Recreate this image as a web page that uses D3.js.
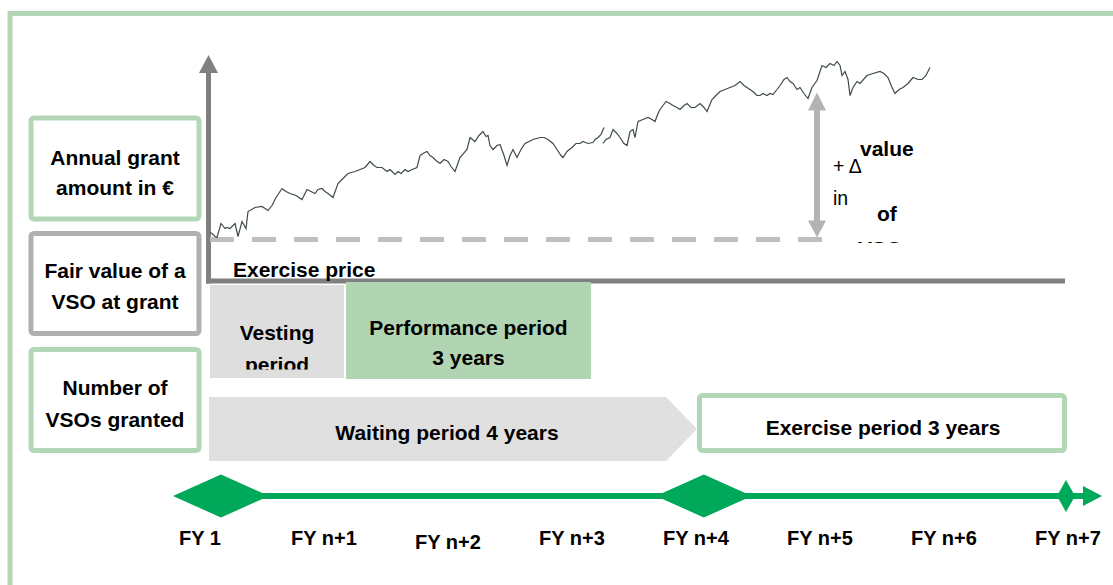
<!DOCTYPE html>
<html>
<head>
<meta charset="utf-8">
<title>VSO timeline</title>
<style>
  body { margin: 0; background: #fff; font-family: "Liberation Sans", Arial, sans-serif; }
  .lbl { font-size: 21px; font-weight: bold; fill: #000; }
  .thin { font-size: 19.5px; font-weight: normal; fill: #000; }
</style>
</head>
<body>
<script src="https://cdn.jsdelivr.net/npm/d3@7"></script>
<div id="graphic"></div>
<script>
// share price path (trading day, price index; exercise price = 100)
var stockT1 = [0, 2, 5, 7, 11, 15, 17, 20, 25, 28, 32, 36, 38, 45, 52, 58, 62, 66, 72, 76, 80, 86, 92, 97, 101, 105, 108, 112, 115, 118, 123, 128, 133, 138, 145, 150, 155, 160, 164, 167, 172, 177, 180, 185, 188, 191, 195, 198, 202, 207, 210, 213, 217, 220, 223, 226, 230, 234, 238, 241, 245, 250, 257, 260, 265, 269, 273, 276, 278, 280, 283, 287, 290, 294, 297, 300, 303, 307, 311, 315, 323, 330, 334, 338, 343, 347, 351, 353, 357, 362, 366, 370, 373, 378, 383, 385, 388, 391, 394];
var stockV1 = [103.5, 103, 101.5, 101, 108, 105.5, 106, 105.5, 108, 101.5, 109, 105.5, 114, 116, 116.5, 114.5, 117, 121, 125.5, 124, 123, 122, 120, 125, 124, 123, 125, 125.5, 124, 123, 121, 128, 130.5, 133, 134, 135, 136, 139, 137, 136, 136, 134, 135, 132.5, 134, 133, 135, 134, 135, 136, 142, 143, 144, 142, 141, 139.5, 138, 140, 139, 136.5, 134, 141, 145, 151, 149, 152, 154, 151.5, 152, 147, 145, 147, 147.5, 142, 137, 142, 145, 141, 145, 148, 150, 151, 151, 150, 148, 145, 142, 141, 144, 146, 148, 148, 149, 148, 148.5, 150, 151, 152.5, 156];
var stockT2 = [393, 396, 400, 403, 407, 410, 414, 417, 420, 423, 425, 428, 433, 438, 442, 445, 448, 450, 453, 456, 460, 463, 467, 470, 474, 477, 481, 485, 490, 494, 497, 502, 506, 510, 515, 520, 525, 530, 534, 537, 540, 543, 547, 550, 553, 557, 560, 563, 567, 570, 574, 577, 580, 583, 587, 590, 594, 598, 602, 607, 612, 616, 620, 624, 627, 630, 632, 635, 638, 640, 643, 647, 650, 657, 663, 670, 674, 678, 682, 685, 689, 693, 698, 703, 708, 712, 716, 720];
var stockV2 = [148, 150, 151, 155, 153, 151, 148, 147, 154, 155, 151, 159, 160, 161, 160, 159, 163, 165, 167, 169, 168, 167, 166, 165, 167, 168, 166, 166, 168, 166, 164, 170, 172, 174, 175, 176, 177, 179, 177, 176, 175, 174, 172, 172, 173, 172, 173, 172.5, 175, 177, 180, 181, 179, 178, 175, 176, 173, 170.5, 176, 179.5, 187, 186, 188, 187, 189, 187, 182, 184, 180, 172, 176, 179, 178, 182, 183, 184, 183, 181, 176, 173, 175, 176, 178, 181, 180, 180, 182, 186];

var exercisePrice = 100;
var deltaDay = 607;
var deltaTop = 173.5;

var fyLabels = ["FY 1", "FY n+1", "FY n+2", "FY n+3", "FY n+4", "FY n+5", "FY n+6", "FY n+7"];
var milestoneYears = [0, 4, 7];

var leftBoxes = [
  { lines: ["Annual grant", "amount in \u20ac"], color: "#b3d7b5" },
  { lines: ["Fair value of a", "VSO at grant"], color: "#b0b0b0" },
  { lines: ["Number of", "VSOs granted"], color: "#b3d7b5" }
];

var width = 1113, height = 585;
var green = "#00a859";

var svg = d3.select("#graphic").append("svg")
  .attr("width", width)
  .attr("height", height);

// outer frame
svg.append("rect")
  .attr("x", 10).attr("y", 13.5)
  .attr("width", 1200).attr("height", 700)
  .attr("fill", "none")
  .attr("stroke", "#b3d7b5")
  .attr("stroke-width", 5);

// scales
var x = d3.scaleLinear().domain([0, 720]).range([210, 930]);
var y = d3.scaleLinear().domain([100, 200]).range([239.5, 39.5]);
var tl = d3.scaleLinear().domain([0, 7]).range([221, 1066]);
var fy = d3.scalePoint().domain(fyLabels).range([200, 1068]);

// left boxes
var boxTop = [118, 233.5, 349.5];
var boxH = [101, 100, 101];
var lineY = [[165, 195], [278, 309], [395, 427]];

leftBoxes.forEach(function (b, i) {
  svg.append("rect")
    .attr("x", 31).attr("y", boxTop[i])
    .attr("width", 168).attr("height", boxH[i])
    .attr("rx", 3)
    .attr("fill", "#fff")
    .attr("stroke", b.color)
    .attr("stroke-width", 5);
  b.lines.forEach(function (t, j) {
    svg.append("text").attr("class", "lbl")
      .attr("x", 115).attr("y", lineY[i][j])
      .attr("text-anchor", "middle")
      .text(t);
  });
});

// axes
var axisColor = "#808080";
svg.append("line")
  .attr("x1", 208.5).attr("x2", 208.5)
  .attr("y1", 283.5).attr("y2", 72)
  .attr("stroke", axisColor).attr("stroke-width", 5);
svg.append("path")
  .attr("d", "M199,73 L218,73 L208.5,55 Z")
  .attr("fill", axisColor);
svg.append("line")
  .attr("x1", 206).attr("x2", 1065)
  .attr("y1", 281).attr("y2", 281)
  .attr("stroke", axisColor).attr("stroke-width", 5);

// exercise price
svg.append("line")
  .attr("x1", x(0)).attr("x2", x(deltaDay + 5))
  .attr("y1", y(exercisePrice)).attr("y2", y(exercisePrice))
  .attr("stroke", "#bfbfbf")
  .attr("stroke-width", 5)
  .attr("stroke-dasharray", "24,18");

svg.append("text").attr("class", "lbl")
  .attr("x", 233).attr("y", 277)
  .text("Exercise price");

// share price line
var line = d3.line()
  .x(function (d) { return x(d[0]); })
  .y(function (d) { return y(d[1]); });

[[stockT1, stockV1], [stockT2, stockV2]].forEach(function (s) {
  svg.append("path")
    .datum(d3.zip(s[0], s[1]))
    .attr("d", line)
    .attr("fill", "none")
    .attr("stroke", "#3e4c46")
    .attr("stroke-width", 1.2);
});

// delta arrow
var ax = x(deltaDay);
var arrowColor = "#b3b3b3";
svg.append("line")
  .attr("x1", ax).attr("x2", ax)
  .attr("y1", y(deltaTop) + 17).attr("y2", y(exercisePrice) - 18)
  .attr("stroke", arrowColor).attr("stroke-width", 6);
svg.append("path")
  .attr("d", "M" + (ax - 9) + "," + (y(deltaTop) + 18) + " L" + (ax + 9) + "," + (y(deltaTop) + 18) + " L" + ax + "," + y(deltaTop) + " Z")
  .attr("fill", arrowColor);
svg.append("path")
  .attr("d", "M" + (ax - 9) + "," + (y(exercisePrice) - 19) + " L" + (ax + 9) + "," + (y(exercisePrice) - 19) + " L" + ax + "," + (y(exercisePrice) - 2) + " Z")
  .attr("fill", arrowColor);

// clipped delta label
svg.append("clipPath").attr("id", "deltaClip")
  .append("rect").attr("x", 825).attr("y", 120).attr("width", 120).attr("height", 123);
var dl = svg.append("g").attr("clip-path", "url(#deltaClip)");
dl.append("text").attr("class", "thin").attr("x", 833).attr("y", 173).text("+ \u0394");
dl.append("text").attr("class", "thin").attr("x", 833).attr("y", 205).text("in");
dl.append("text").attr("class", "lbl").attr("x", 860).attr("y", 156).text("value");
dl.append("text").attr("class", "lbl").attr("x", 877).attr("y", 221).text("of");
dl.append("text").attr("class", "lbl").attr("x", 858).attr("y", 256).text("VSOs");

// vesting period
svg.append("rect")
  .attr("x", 210).attr("y", 285)
  .attr("width", 134).attr("height", 93)
  .attr("fill", "#dedede");
svg.append("clipPath").attr("id", "vestClip")
  .append("rect").attr("x", 210).attr("y", 285).attr("width", 134).attr("height", 84.5);
var vg = svg.append("g").attr("clip-path", "url(#vestClip)");
vg.append("text").attr("class", "lbl").attr("x", 277).attr("y", 340).attr("text-anchor", "middle").text("Vesting");
vg.append("text").attr("class", "lbl").attr("x", 277).attr("y", 372).attr("text-anchor", "middle").text("period");

// performance period
svg.append("rect")
  .attr("x", 346).attr("y", 282)
  .attr("width", 245).attr("height", 97)
  .attr("fill", "#b1d5b3");
svg.append("text").attr("class", "lbl").attr("x", 468.5).attr("y", 335).attr("text-anchor", "middle").text("Performance period");
svg.append("text").attr("class", "lbl").attr("x", 468.5).attr("y", 365).attr("text-anchor", "middle").text("3 years");

// waiting period chevron
svg.append("path")
  .attr("d", "M209,397 L666,397 L697,429 L666,461 L209,461 Z")
  .attr("fill", "#e0e0e0");
svg.append("text").attr("class", "lbl").attr("x", 447).attr("y", 440).attr("text-anchor", "middle").text("Waiting period 4 years");

// exercise period
svg.append("rect")
  .attr("x", 699.5).attr("y", 395.5)
  .attr("width", 365).attr("height", 55)
  .attr("rx", 3)
  .attr("fill", "#fff")
  .attr("stroke", "#b3d7b5")
  .attr("stroke-width", 5);
svg.append("text").attr("class", "lbl").attr("x", 883).attr("y", 435).attr("text-anchor", "middle").text("Exercise period 3 years");

// timeline
var ty = 496;
svg.append("line")
  .attr("x1", tl(0)).attr("x2", 1084)
  .attr("y1", ty).attr("y2", ty)
  .attr("stroke", green).attr("stroke-width", 6);
svg.append("path")
  .attr("d", "M1083," + (ty - 10) + " L1102," + ty + " L1083," + (ty + 10) + " Z")
  .attr("fill", green);

svg.selectAll(".milestone")
  .data(milestoneYears)
  .enter().append("path")
  .attr("class", "milestone")
  .attr("fill", green)
  .attr("d", function (d, i) {
    var cx = tl(d), hw = i < 2 ? 48 : 9, hh = i < 2 ? 21.5 : 16;
    return "M" + (cx - hw) + "," + ty + " L" + cx + "," + (ty - hh) + " L" + (cx + hw) + "," + ty + " L" + cx + "," + (ty + hh) + " Z";
  });

svg.selectAll(".fy")
  .data(fyLabels)
  .enter().append("text")
  .attr("class", "lbl fy")
  .style("font-size", "20px")
  .attr("x", function (d) { return fy(d); })
  .attr("y", function (d) { return d === "FY n+2" ? 549 : 545; })
  .attr("text-anchor", "middle")
  .text(function (d) { return d; });
</script>
</body>
</html>
